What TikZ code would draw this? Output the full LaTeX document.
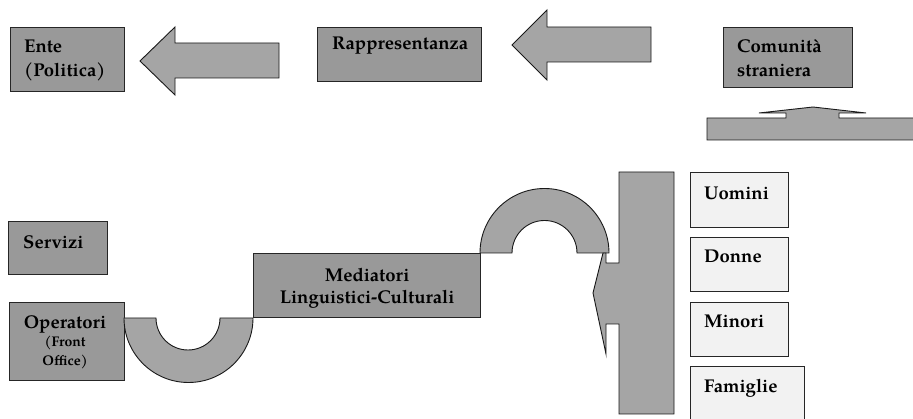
\documentclass[tikz,border=0pt]{standalone}
\usepackage{fontspec}
\setmainfont{TeX Gyre Pagella}
\usetikzlibrary{positioning}

\definecolor{boxgray}{RGB}{153,153,153}
\definecolor{shapegray}{RGB}{165,165,165}
\definecolor{palegray}{RGB}{242,242,242}

\begin{document}
\begin{tikzpicture}[
    x=1pt, y=-1pt,
    box/.style={draw=black!85, fill=boxgray, line width=1.2pt, inner sep=0pt, anchor=north west},
    palebox/.style={box, fill=palegray},
    lbl/.style={font=\bfseries\fontsize{18.5}{24}\selectfont, inner sep=0pt, align=left},
    blob/.style={draw=black!90, fill=shapegray, line width=0.9pt}
]
    \useasboundingbox (0,0) rectangle (913,419);
    \clip (0,0) rectangle (913,419);

    % top row
    \node[box, minimum width=114pt, minimum height=64pt] (ente) at (10,27) {};
    \node[box, minimum width=164pt, minimum height=54pt] (rapp) at (317,27) {};
    \node[box, minimum width=129pt, minimum height=60pt] (comu) at (723,27) {};
    \node[lbl, below right=13pt and 14pt of ente.north west] (entetxt) {Ente\\(Politica)};
    \node[lbl, below right=10pt and 15pt of rapp.north west] (rapptxt) {Rappresentanza};
    \node[lbl, below right=12pt and 14pt of comu.north west] (comutxt) {Comunità\\straniera};

    \draw[blob] (140,61) -- (175,27) -- (175,43) -- (279,43) -- (279,78) -- (175,78) -- (175,95) -- cycle;
    \draw[blob] (512,45) -- (547,10) -- (547,27) -- (651,27) -- (651,62) -- (547,62) -- (547,80) -- cycle;
    \draw[blob] (707,118) -- (786,118) -- (786,113) -- (759,113) -- (813,107) -- (866,113)
        -- (839,113) -- (839,118) -- (925,118) -- (925,140) -- (707,140) -- cycle;

    % left side
    \node[box, minimum width=99pt, minimum height=53pt] (serv) at (8,221) {};
    \node[box, minimum width=115pt, minimum height=78pt] (oper) at (9,302) {};
    \node[box, minimum width=227pt, minimum height=64pt] (medi) at (253,253) {};
    \node[lbl, below right=14pt and 15pt of serv.north west] (servtxt) {Servizi};
    \node[lbl, align=center, anchor=north, below=13pt of oper.north, xshift=-2pt] (opertxt)
        {Operatori\\[-6pt]{\fontsize{14}{16}\selectfont (Front}\\[-5pt]{\fontsize{14}{16}\selectfont Office)}};
    \node[lbl, align=center, anchor=north, below=15pt of medi.north] (meditxt) {Mediatori\\[-2pt]Linguistici-Culturali};

    \draw[blob] (124,318) arc[start angle=180, end angle=0, radius=64.5] -- (220,318)
        arc[start angle=0, end angle=180, radius=32] -- cycle;
    \draw[blob] (480,253) arc[start angle=180, end angle=360, radius=64.5] -- (577,253)
        arc[start angle=360, end angle=180, radius=32.5] -- cycle;
    \draw[blob] (619,172) -- (674,172) -- (674,414) -- (619,414) -- (619,324) -- (606,324) -- (606,354)
        -- (593,293) -- (603,253) -- (606,253) -- (606,263) -- (619,263) -- cycle;

    % target groups
    \node[palebox, minimum width=98pt, minimum height=55pt] (uomini) at (690,172) {};
    \node[palebox, minimum width=98pt, minimum height=54pt] (donne) at (690,237) {};
    \node[palebox, minimum width=98pt, minimum height=54pt] (minori) at (690,302) {};
    \node[palebox, minimum width=114pt, minimum height=70pt] (famiglie) at (690,366) {};
    \node[lbl, below right=15pt and 14pt of uomini.north west] (uominitxt) {Uomini};
    \node[lbl, below right=13pt and 14pt of donne.north west] (donnetxt) {Donne};
    \node[lbl, below right=13pt and 14pt of minori.north west] (minoritxt) {Minori};
    \node[lbl, below right=13pt and 14pt of famiglie.north west] (famiglietxt) {Famiglie};
\end{tikzpicture}
\end{document}
